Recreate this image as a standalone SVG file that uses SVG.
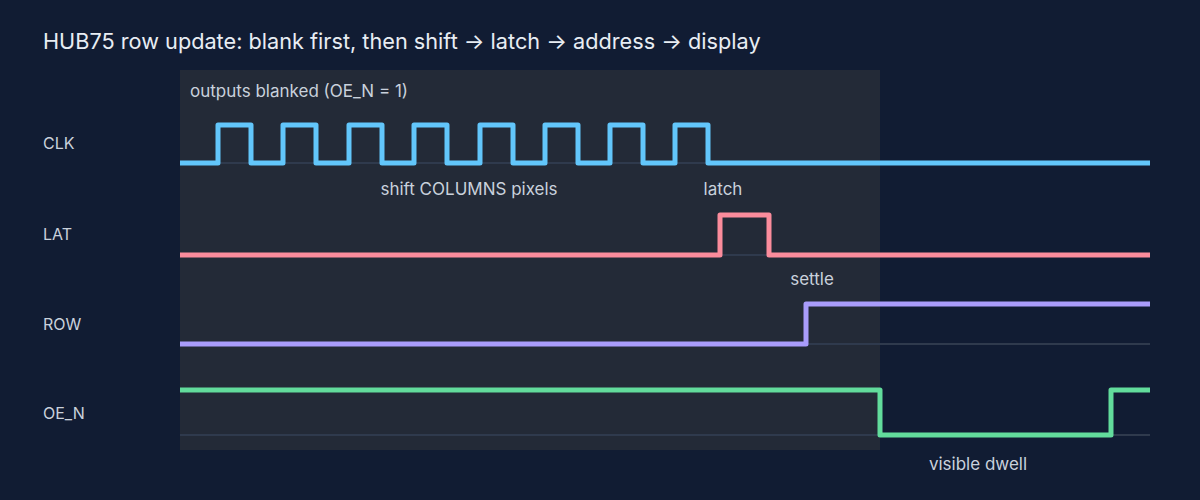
<svg xmlns="http://www.w3.org/2000/svg" width="1200" height="500" viewBox="0 0 1200 500">
<style>
text{font-family:Inter,"Liberation Sans",sans-serif;fill:#c9d1dc}
.lbl{font-size:16px}
.note{font-size:17px;text-anchor:middle}
.base{stroke:#2f3a4d;stroke-width:2;fill:none}
.w{fill:none;stroke-width:5;stroke-linejoin:round}
</style>
<rect width="1200" height="500" fill="#111c33"/>
<rect x="180" y="70" width="700" height="380" fill="#232a37"/>
<text x="43" y="49" style="font-size:21.7px;fill:#e8edf3">HUB75 row update: blank first, then shift → latch → address → display</text>
<text x="190" y="97" style="font-size:17px">outputs blanked (OE_N = 1)</text>
<g id="labels" class="lbl">
<text x="43" y="149">CLK</text>
<text x="43" y="240">LAT</text>
<text x="43" y="330">ROW</text>
<text x="43" y="419">OE_N</text>
</g>
<g id="baselines">
<line class="base" x1="180" y1="163" x2="1150" y2="163"/>
<line class="base" x1="180" y1="255" x2="1150" y2="255"/>
<line class="base" x1="180" y1="344" x2="1150" y2="344"/>
<line class="base" x1="180" y1="435" x2="1150" y2="435"/>
</g>
<g id="connectors">
<path id="clk" class="w" stroke="#62c6fb" d="M180 163H218V125H251V163H283V125H316V163H349V125H382V163H414V125H447V163H480V125H513V163H545V125H578V163H610V125H643V163H675V125H708V163H1150"/>
<path id="lat" class="w" stroke="#fb8c9c" d="M180 255H720V215H769V255H1150"/>
<path id="row" class="w" stroke="#a99cfb" d="M180 344H806V304H1150"/>
<path id="oe" class="w" stroke="#62dc9c" d="M180 390H880V435H1111V390H1150"/>
</g>
<g id="notes" class="note">
<text x="469" y="195">shift COLUMNS pixels</text>
<text x="723" y="195">latch</text>
<text x="812" y="285">settle</text>
<text x="978" y="470">visible dwell</text>
</g>
</svg>
